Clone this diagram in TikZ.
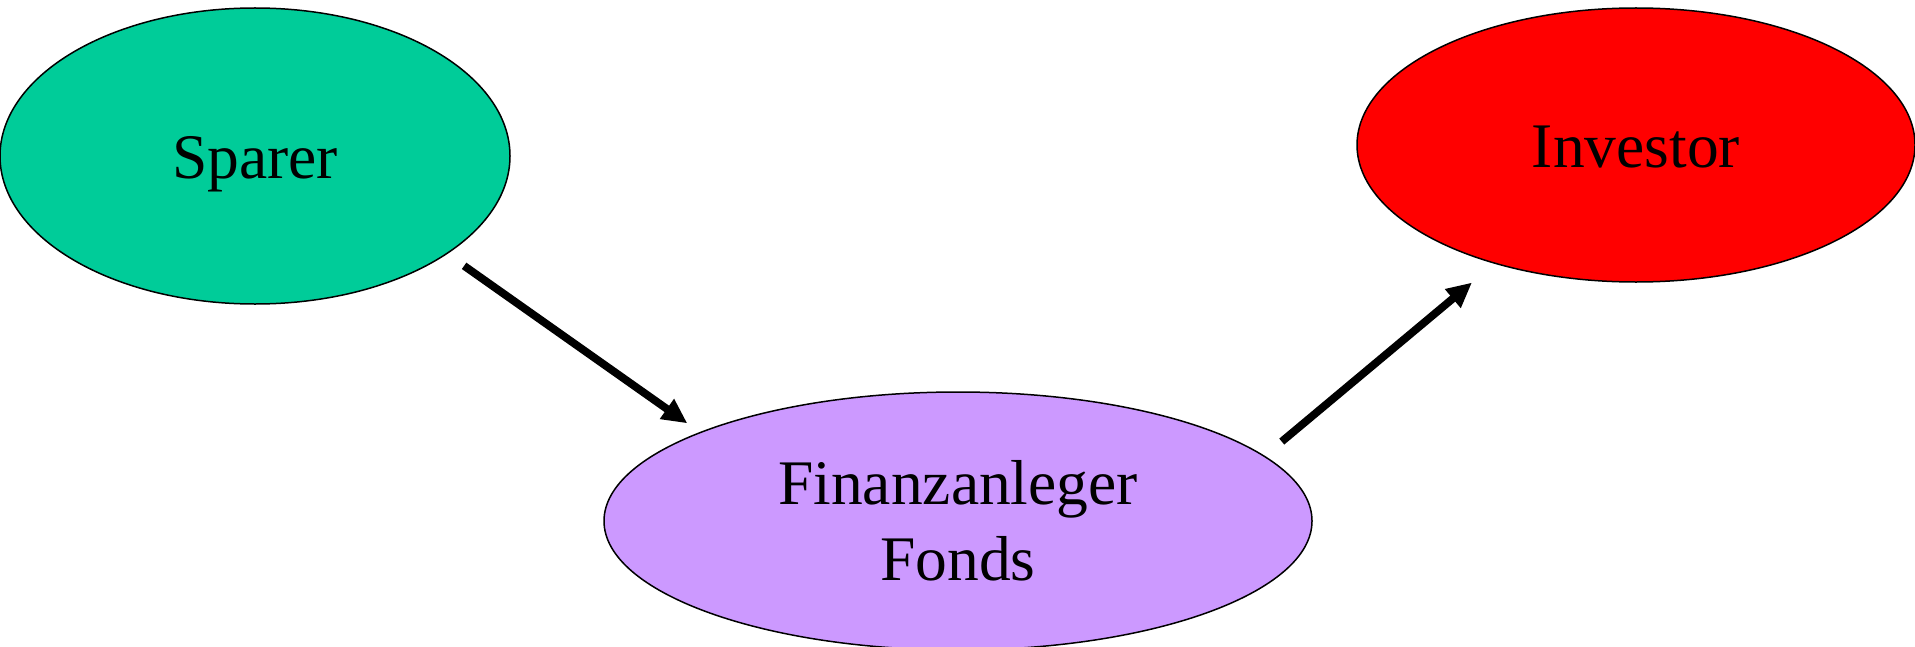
\documentclass[tikz,border=0pt]{standalone}
\usepackage{fontspec}
\setmainfont{Liberation Serif}
\usepackage{tikz}
\usetikzlibrary{shapes.geometric,arrows.meta}
\definecolor{sparergreen}{RGB}{0,204,153}
\definecolor{fondslilac}{RGB}{204,153,255}
\definecolor{investorred}{RGB}{255,0,0}
\tikzset{%
    blob/.style={%
        ellipse, draw=black, line width=0.75pt,
        font=\fontsize{31.75pt}{38pt}\selectfont
    },
    oneline/.style={text height=22.5pt, text depth=0pt},
    flow/.style={%
        line width=3.9pt, -{Triangle[length=12.5pt,width=11.5pt]}
    }
}

\begin{document}
\begin{tikzpicture}[x=0.5pt,y=-0.5pt]
%-----------------------------------------------
    \useasboundingbox (0,0) rectangle (1915,647);
%-----------------------------------------------
    \node[blob,oneline,fill=sparergreen,minimum width=255pt,minimum height=148pt] (sparer) at (255,156) {Sparer};
    \node[blob,oneline,fill=investorred,minimum width=279pt,minimum height=137pt] (investor) at (1636,145) {Investor};
    \node[blob,align=center,fill=fondslilac,minimum width=354pt,minimum height=129pt] (fonds) at (958,521) {Finanzanleger\\Fonds};
%-----------------------------------------------
    \draw[flow,shorten <=10.25pt,shorten >=7.6pt] (sparer.-27.7)--(fonds.161.5);
    \draw[flow,shorten <=11.1pt,shorten >=14.65pt] (fonds.12.4)--(investor.-140.9);
\end{tikzpicture}
\end{document}
